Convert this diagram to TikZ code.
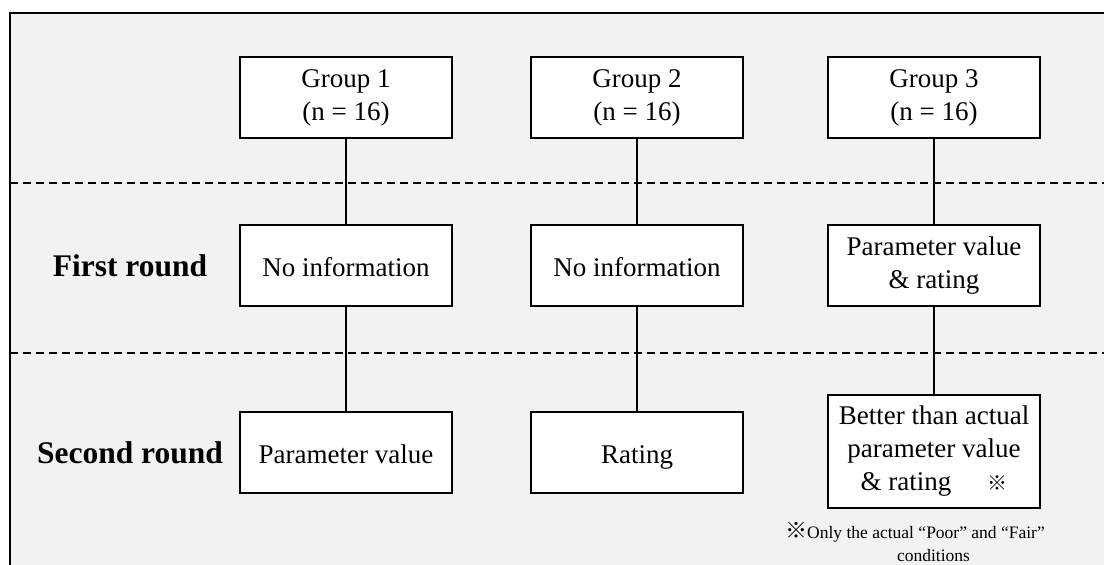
\documentclass[tikz,border=0pt]{standalone}
\usepackage{fontspec}
\setmainfont{Liberation Serif}
\newfontfamily\cjk{Noto Sans CJK JP}
\begin{document}
\begin{tikzpicture}[x=1pt,y=-1pt,
  line/.style={line width=1.8pt},
  stage/.style={draw, line width=1.6pt, fill=white, minimum width=212pt,
    minimum height=81pt, inner sep=0pt, align=center,
    font=\fontsize{27}{33}\selectfont,
    execute at begin node={\rule{0pt}{27pt}},
    execute at end node={\rule[-5pt]{0pt}{5pt}}},
  roundlabel/.style={font=\fontsize{31.5}{36}\selectfont\bfseries},
  sep/.style={line width=1.6pt, dash pattern=on 8pt off 5pt}]
\useasboundingbox (0,0) rectangle (1104,565);
% panel background and frame
\fill[black!5] (10,13) rectangle (1104,565);
\draw[line width=1.6pt] (10,565) -- (10,13) -- (1104,13);
% separators between rounds
\draw[sep] (10,183) -- (1104,183);
\draw[sep] (10,353) -- (1104,353);
% round labels
\node[roundlabel] (r1) at (130,265.5) {First round};
\node[roundlabel] (r2) at (130,453) {Second round};
% groups
\node[stage] (g1) at (346,97.5) {Group 1\\(n = 16)};
\node[stage] (g2) at (637,97.5) {Group 2\\(n = 16)};
\node[stage] (g3) at (934,97.5) {Group 3\\(n = 16)};
% first round
\node[stage] (f1) at (346,265.5) {No information};
\node[stage] (f2) at (637,265.5) {No information};
\node[stage] (f3) at (934,265.5) {Parameter value\\\& rating};
% second round
\node[stage] (s1) at (346,452.5) {Parameter value};
\node[stage] (s2) at (637,452.5) {Rating};
\node[stage, minimum height=113pt] (s3) at (934,451.5)
  {Better than actual\\parameter value\\\& rating\hspace{36pt}{\cjk\fontsize{20}{20}\selectfont ※}};
% footnote
\node[align=center, inner sep=0pt, font=\fontsize{17.5}{23}\selectfont] (note) at (915,542)
  {{\cjk\fontsize{22}{22}\selectfont ※}Only the actual “Poor” and “Fair”\\\hspace*{37pt}conditions};
% connectors
\draw[line] (g1) -- (f1);
\draw[line] (f1) -- (s1);
\draw[line] (g2) -- (f2);
\draw[line] (f2) -- (s2);
\draw[line] (g3) -- (f3);
\draw[line] (f3) -- (s3);
\end{tikzpicture}
\end{document}
